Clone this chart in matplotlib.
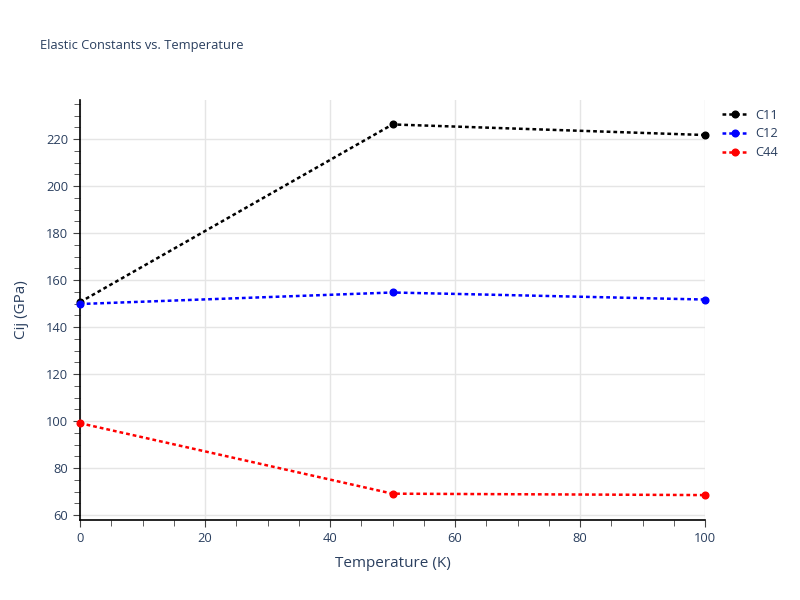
import matplotlib
matplotlib.use("Agg")
import matplotlib.pyplot as plt
from matplotlib.ticker import MultipleLocator

temperature = [0, 50, 100]
c11 = [150.6, 226.2, 221.7]
c12 = [149.8, 154.7, 151.7]
c44 = [99.1, 69.1, 68.5]
series_names = ["C11", "C12", "C44"]
series_colors = ["black", "blue", "red"]

plt.rcParams['font.family'] = ['Open Sans', 'DejaVu Sans']
text_color = '#2a3f5f'

fig = plt.figure(figsize=(8, 6), dpi=100)
ax = fig.add_axes([80/800, 1 - 520/600, 625/800, 420/600])

for vals, name, col in zip([c11, c12, c44], series_names, series_colors):
    ax.plot(temperature, vals, linestyle=(0, (1.5, 1.2)), linewidth=1.8, color=col,
            marker='o', markersize=4.8, label=name, clip_on=False, zorder=3)

ax.set_xlim(0, 100)
ax.set_ylim(57.9, 236.6)
ax.xaxis.set_major_locator(MultipleLocator(20))
ax.xaxis.set_minor_locator(MultipleLocator(5))
ax.yaxis.set_major_locator(MultipleLocator(20))
ax.yaxis.set_minor_locator(MultipleLocator(5))
ax.grid(True, which='major', color='#e5e5e5', linewidth=1)
ax.set_axisbelow(True)
for s in ['top', 'right']:
    ax.spines[s].set_visible(False)
for s in ['left', 'bottom']:
    ax.spines[s].set_color('black')
    ax.spines[s].set_linewidth(1.2)
ax.tick_params(which='both', direction='out', colors='#444444', labelcolor=text_color, labelsize=9.3)
ax.tick_params(which='major', length=5)
ax.tick_params(which='minor', length=4)

ax.set_xlabel('Temperature (K)', fontsize=11, color=text_color, labelpad=8)
ax.set_ylabel('Cij (GPa)', fontsize=11, color=text_color, labelpad=12)
fig.text(40/800, 1 - 46/600, 'Elastic Constants vs. Temperature', fontsize=9.3,
         color=text_color, va='center', ha='left')

leg = ax.legend(loc='upper left', bbox_to_anchor=(710/800, 1 - 97/600),
                bbox_transform=fig.transFigure, frameon=False, fontsize=9.3,
                handlelength=2.1, labelspacing=0.45, handletextpad=0.5)
for t in leg.get_texts():
    t.set_color(text_color)

fig.savefig('out.png', dpi=100)
